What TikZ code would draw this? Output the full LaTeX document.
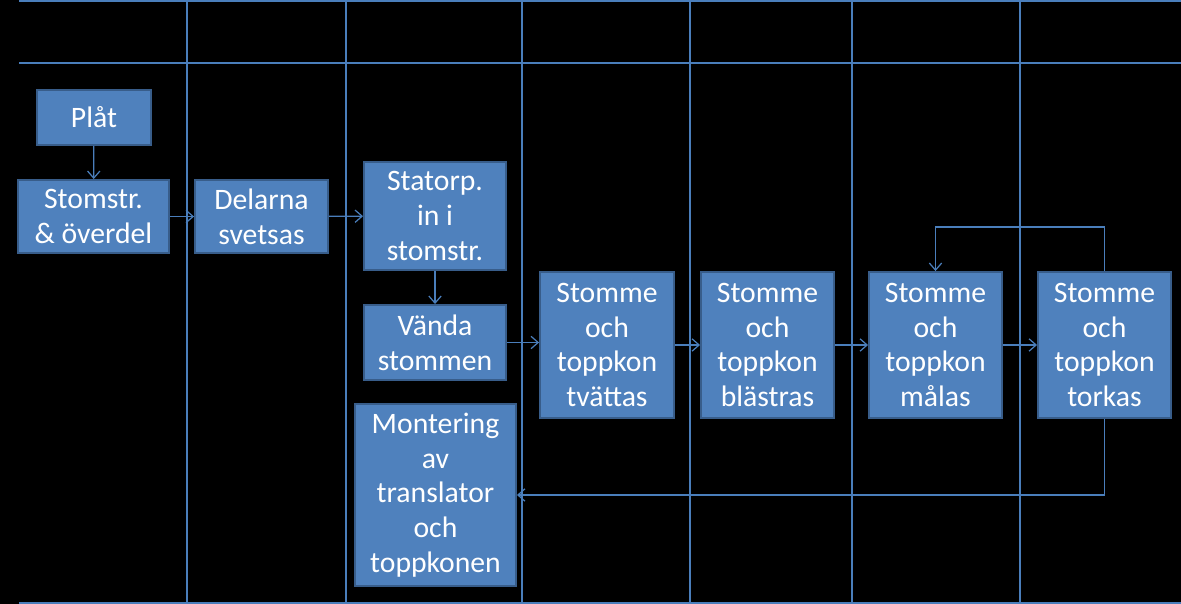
\documentclass[tikz,border=0pt]{standalone}
\usepackage{fontspec}
\setmainfont{Carlito}
\usepackage{xcolor}
\usetikzlibrary{arrows.meta}

\definecolor{boxblue}{HTML}{4F81BD}
\definecolor{boxedge}{HTML}{385D8A}
\definecolor{gridblue}{HTML}{4A7EBB}

\begin{document}
\begin{tikzpicture}[x=0.02cm, y=-0.02cm,
    stepbox/.style={draw=boxedge, line width=1.1pt, fill=boxblue, text=white, align=center,
        inner sep=0pt, font=\fontsize{16.9}{19.8}\selectfont},
    flow/.style={draw=gridblue, line width=0.7pt, -{Straight Barb[length=4pt,width=7pt]}},
    lane/.style={draw=gridblue, line width=0.8pt}]
    \fill[black] (0,0) rectangle (1181,604);
    \useasboundingbox (0,0) rectangle (1181,604);

    % Lanes
    \draw[lane] (19,1) -- (1181,1);
    \draw[lane] (19,63) -- (1181,63);
    \draw[lane] (19,603) -- (1181,603);
    \foreach \x in {187,346,522,690,852,1020}
        \draw[lane] (\x,0) -- (\x,603);

    % Steps
    \node[stepbox, minimum width=2.28cm, minimum height=1.1cm] (plat) at (94,117.5) {Plåt};
    \node[stepbox, minimum width=3.02cm, minimum height=1.46cm] (stomstr) at (93.5,216.5) {Stomstr.\\\& överdel};
    \node[stepbox, minimum width=2.66cm, minimum height=1.46cm] (delarna) at (261.5,216.5) {Delarna\\svetsas};
    \node[stepbox, minimum width=2.84cm, minimum height=2.16cm] (statorp) at (435,216) {Statorp.\\in i\\stomstr.};
    \node[stepbox, minimum width=2.84cm, minimum height=1.5cm] (vanda) at (435,342.5) {Vända\\stommen};
    \node[stepbox, minimum width=3.22cm, minimum height=3.64cm] (montering) at (435.5,495) {Montering\\av\\translator\\och\\toppkonen};
    \node[stepbox, minimum width=2.68cm, minimum height=2.92cm] (tvattas) at (607,345) {Stomme\\och\\toppkon\\tvättas};
    \node[stepbox, minimum width=2.66cm, minimum height=2.92cm] (blastras) at (767.5,345) {Stomme\\och\\toppkon\\blästras};
    \node[stepbox, minimum width=2.66cm, minimum height=2.92cm] (malas) at (935.5,345) {Stomme\\och\\toppkon\\målas};
    \node[stepbox, minimum width=2.66cm, minimum height=2.92cm] (torkas) at (1104.5,345) {Stomme\\och\\toppkon\\torkas};

    % Flow
    \draw[flow] (plat) -- (stomstr);
    \draw[flow] (stomstr) -- (delarna);
    \draw[flow] (delarna) -- (statorp);
    \draw[flow] (statorp) -- (vanda);
    \draw[flow] (vanda.east) -- (vanda.east -| tvattas.west);
    \draw[flow] (tvattas) -- (blastras);
    \draw[flow] (blastras) -- (malas);
    \draw[flow] (malas) -- (torkas);

    % Loop back and return
    \draw[flow] (torkas.north) -- ++(0,-44) -| (malas.north);
    \draw[flow] (torkas.south) |- (montering.east);
\end{tikzpicture}
\end{document}
